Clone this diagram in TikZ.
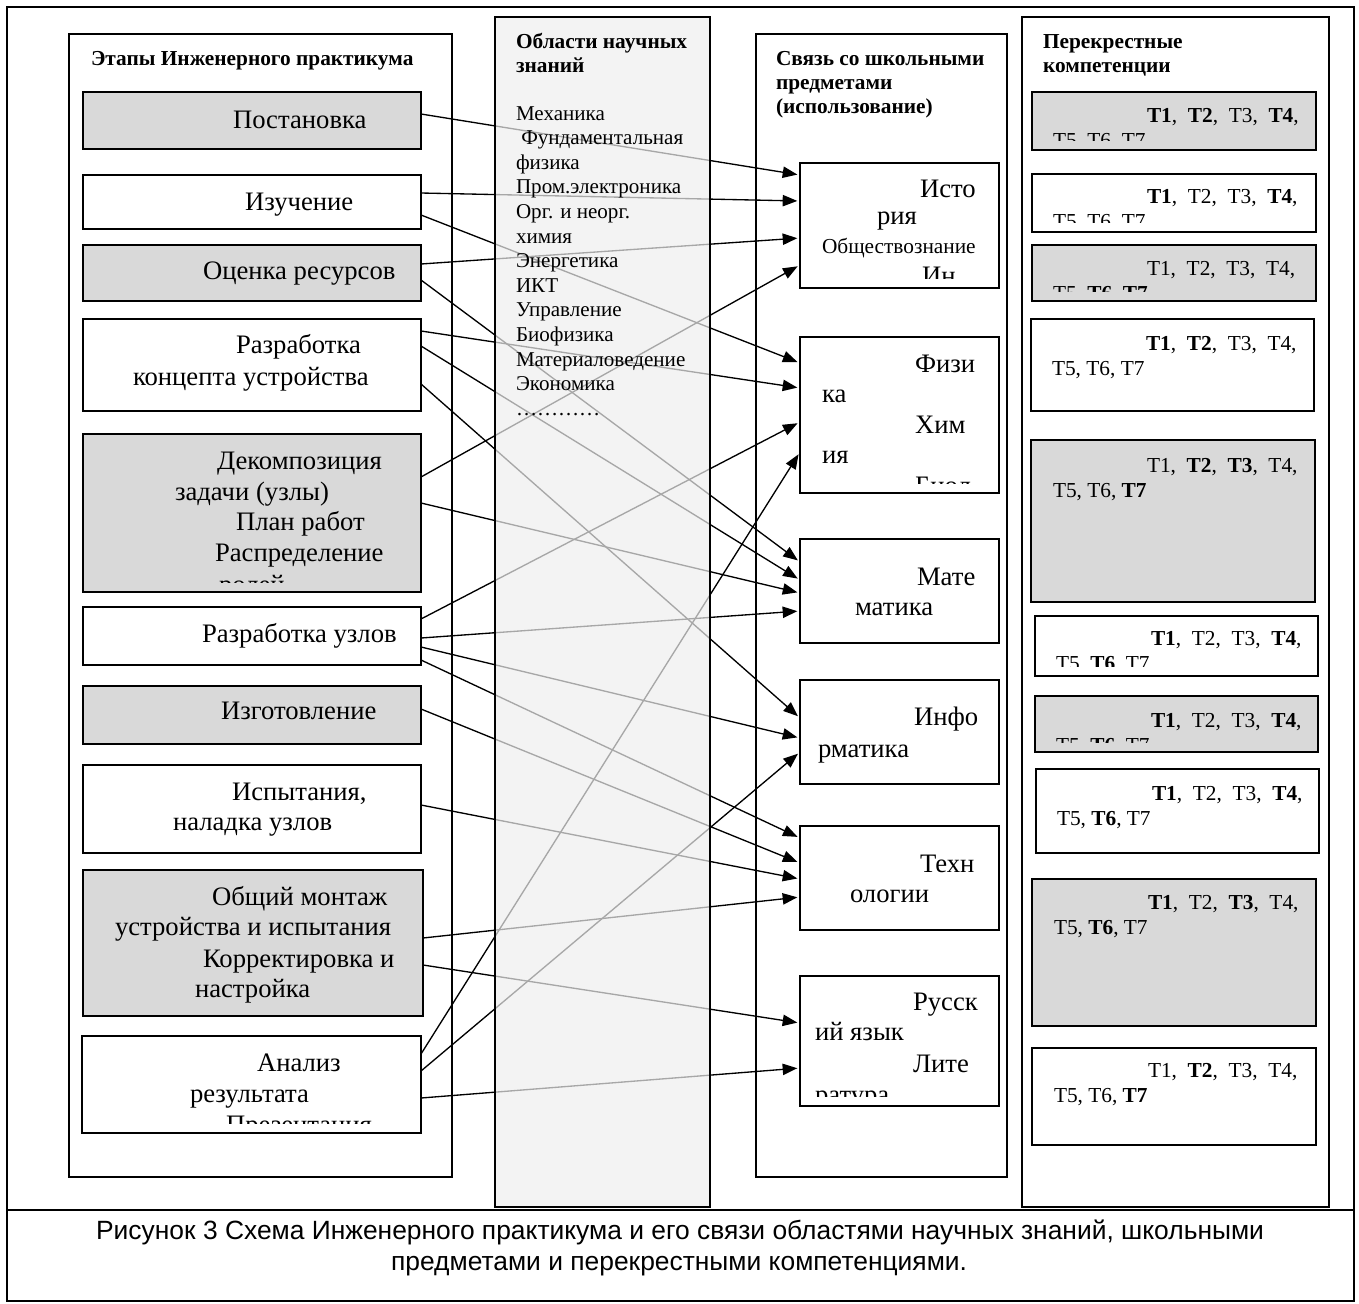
\documentclass[tikz,border=0pt]{standalone}
\usepackage{fontspec}
\setmainfont{Liberation Serif}
\newfontfamily\capfont{Liberation Sans}
\usepackage{xcolor}
\usepackage{tikz}
\usetikzlibrary{arrows.meta,fit}
\definecolor{boxgray}{HTML}{D9D9D9}
\definecolor{areagray}{HTML}{EEEEEE}
\newcommand\stagefont{\fontsize{20}{24}\selectfont}
\newcommand\subjfont{\fontsize{20}{24}\selectfont}
\newcommand\listfont{\fontsize{15.8}{18}\selectfont}
\newcommand\compfont{\fontsize{16}{19}\selectfont}
\newcommand\headfont{\fontsize{16}{19}\selectfont\bfseries}
\newcommand\captfont{\capfont\fontsize{19.8}{23}\selectfont}
\newcommand\boxlines[3]{%
  \begin{scope}
    \clip (#1.north west) rectangle ([yshift=7.5pt]#1.south east);
    \foreach \lx/\ly/\lt [count=\li] in {#3}
      \node[lbl, font=#2] (#1-\li) at (\lx,\ly) {\lt};
  \end{scope}}
\tikzset{
  frame/.style={draw, line width=1.5pt, inner sep=0pt, outer sep=0pt},
  column/.style={draw, line width=1.3pt, fill=white, inner sep=0pt, outer sep=0pt},
  stage/.style={draw, line width=1.4pt, inner sep=0pt, outer sep=0pt},
  shaded/.style={stage, fill=boxgray},
  plain/.style={stage, fill=white},
  lbl/.style={anchor=base west, inner sep=0pt, outer sep=0pt},
  capt/.style={anchor=base, inner sep=0pt, font=\captfont},
  link/.style={line width=1pt, -{Triangle[length=11pt,width=8.5pt]}, shorten >=2pt}
}

\begin{document}
\begin{tikzpicture}[x=0.75pt, y=-0.75pt]
  \useasboundingbox (0,0) rectangle (1359,1303);
  \fill[white] (0,0) rectangle (1359,1303);
  \node[frame, fit={(7,7) (1354,1301)}] (sheet) {};
  \draw[frame] (sheet.west |- 0,1210) -- (sheet.east |- 0,1210);

  \node[column, fit={(69,34) (452,1177)}] (stages) {};
  \node[column, fit={(756,34) (1007,1177)}] (subjects) {};
  \node[column, fit={(1022,17) (1329,1207)}] (skills) {};

  \node[lbl, font=\headfont] (stages-head) at (91,65) {Этапы Инженерного практикума};
  \node[lbl, font=\headfont] (subjects-head1) at (776,65) {Связь со школьными};
  \node[lbl, font=\headfont] (subjects-head2) at (776,89) {предметами};
  \node[lbl, font=\headfont] (subjects-head3) at (776,113) {(использование)};
  \node[lbl, font=\headfont] (skills-head1) at (1043,48) {Перекрестные};
  \node[lbl, font=\headfont] (skills-head2) at (1043,72) {компетенции};

  \node[shaded, fit={(83,92) (421,149)}] (post) {};
  \node[plain, fit={(83,175) (421,229)}] (izuch) {};
  \node[shaded, fit={(83,245) (421,301)}] (ocenka) {};
  \node[plain, fit={(83,319) (421,411)}] (koncept) {};
  \node[shaded, fit={(83,434) (421,592)}] (dekomp) {};
  \node[plain, fit={(83,607) (421,665)}] (uzly) {};
  \node[shaded, fit={(83,686) (421,744)}] (izgot) {};
  \node[plain, fit={(83,765) (421,853)}] (ispyt) {};
  \node[shaded, fit={(83,870) (423,1016)}] (montazh) {};
  \node[plain, fit={(82,1036) (421,1133)}] (analiz) {};

  \boxlines{post}{\stagefont}{233/128/Постановка}
  \boxlines{izuch}{\stagefont}{245/210/Изучение}
  \boxlines{ocenka}{\stagefont}{203/279/Оценка ресурсов}
  \boxlines{koncept}{\stagefont}{236/353/Разработка, 133/385/концепта устройства}
  \boxlines{dekomp}{\stagefont}{217/469/Декомпозиция, 175/500/задачи (узлы), 236/530/План работ, 215/561/Распределение, 219/593/ролей}
  \boxlines{uzly}{\stagefont}{202/642/Разработка узлов}
  \boxlines{izgot}{\stagefont}{221/719/Изготовление}
  \boxlines{ispyt}{\stagefont}{232/800/{Испытания,}, 173/830/наладка узлов}
  \boxlines{montazh}{\stagefont}{212/905/Общий монтаж, 115/935/устройства и испытания, 203/967/Корректировка и, 195/997/настройка}
  \boxlines{analiz}{\stagefont}{257/1071/Анализ, 190/1102/результата, 226/1133/Презентация}

  \node[plain, fit={(800,163) (999,288)}] (hist) {};
  \node[plain, fit={(800,337) (999,493)}] (phys) {};
  \node[plain, fit={(800,539) (999,643)}] (math) {};
  \node[plain, fit={(800,680) (999,784)}] (inf) {};
  \node[plain, fit={(800,826) (999,930)}] (tech) {};
  \node[plain, fit={(800,976) (999,1106)}] (rus) {};

  \boxlines{hist}{\subjfont}{920/197/Исто, 877/224/рия, 822/253/{\fontsize{16}{19}\selectfont Обществознание}, 922/284/Ин}
  \boxlines{phys}{\subjfont}{915/372/Физи, 822/402/ка, 915/433/Хим, 822/463/ия, 915/494/Биол}
  \boxlines{math}{\subjfont}{917/585/Мате, 855/615/матика}
  \boxlines{inf}{\subjfont}{914/725/Инфо, 818/757/рматика}
  \boxlines{tech}{\subjfont}{920/872/Техн, 850/902/ологии}
  \boxlines{rus}{\subjfont}{913/1010/Русск, 815/1040/ий язык, 913/1072/Лите, 815/1103/ратура}

  \node[shaded, fit={(1032,92) (1316,150)}] (k1) {};
  \node[plain, fit={(1032,174) (1316,232)}] (k2) {};
  \node[shaded, fit={(1032,245) (1316,301)}] (k3) {};
  \node[plain, fit={(1031,319) (1314,411)}] (k4) {};
  \node[shaded, fit={(1031,440) (1315,602)}] (k5) {};
  \node[plain, fit={(1035,616) (1318,676)}] (k6) {};
  \node[shaded, fit={(1035,696) (1318,752)}] (k7) {};
  \node[plain, fit={(1036,769) (1319,853)}] (k8) {};
  \node[shaded, fit={(1032,879) (1316,1026)}] (k9) {};
  \node[plain, fit={(1032,1048) (1316,1145)}] (k10) {};

  \boxlines{k1}{\compfont}{1147/122/{\textbf{T1},\ \ \textbf{T2},\ \ T3,\ \ \textbf{T4},}, 1053/147/{T5, T6, T7}}
  \boxlines{k2}{\compfont}{1147/203/{\textbf{T1},\ \ T2,\ \ T3,\ \ \textbf{T4},}, 1053/228/{T5, T6, T7}}
  \boxlines{k3}{\compfont}{1147/275/{T1,\ \ T2,\ \ T3,\ \ T4,}, 1053/300/{T5, \textbf{T6}, \textbf{T7}}}
  \boxlines{k4}{\compfont}{1146/350/{\textbf{T1},\ \ \textbf{T2},\ \ T3,\ \ T4,}, 1052/375/{T5, T6, T7}}
  \boxlines{k5}{\compfont}{1147/472/{T1,\ \ \textbf{T2},\ \ \textbf{T3},\ \ T4,}, 1053/497/{T5, T6, \textbf{T7}}}
  \boxlines{k6}{\compfont}{1151/645/{\textbf{T1},\ \ T2,\ \ T3,\ \ \textbf{T4},}, 1056/670/{T5, \textbf{T6}, T7}}
  \boxlines{k7}{\compfont}{1151/727/{\textbf{T1},\ \ T2,\ \ T3,\ \ \textbf{T4},}, 1056/752/{T5, \textbf{T6}, T7}}
  \boxlines{k8}{\compfont}{1152/800/{\textbf{T1},\ \ T2,\ \ T3,\ \ \textbf{T4},}, 1057/825/{T5, \textbf{T6}, T7}}
  \boxlines{k9}{\compfont}{1148/909/{\textbf{T1},\ \ T2,\ \ \textbf{T3},\ \ T4,}, 1054/934/{T5, \textbf{T6}, T7}}
  \boxlines{k10}{\compfont}{1148/1077/{T1,\ \ \textbf{T2},\ \ T3,\ \ T4,}, 1054/1102/{T5, T6, \textbf{T7}}}

  \foreach \a/\ay/\b/\by in {post/114/hist/175, izuch/193/hist/201, izuch/215/phys/363,
      ocenka/264/hist/238, ocenka/280/math/562, koncept/331/phys/388, koncept/346/math/580,
      koncept/384/inf/718, dekomp/477/hist/265, dekomp/503/math/593, uzly/619/phys/422,
      uzly/638/math/611, uzly/647/inf/738, uzly/660/tech/838, izgot/709/tech/863,
      ispyt/805/tech/879, montazh/938/tech/897, montazh/965/rus/1023, analiz/1054/phys/452,
      analiz/1071/inf/752, analiz/1098/rus/1068}
    \draw[link] (\a.east |- 0,\ay) -- (\b.west |- 0,\by);

  \node[column, fill=areagray, fill opacity=0.7, fit={(495,17) (710,1207)}] (areas) {};
  \node[lbl, font=\headfont] (areas-head1) at (516,48) {Области научных};
  \node[lbl, font=\headfont] (areas-head2) at (516,72) {знаний};
  \foreach \t [count=\i] in {Механика, \ Фундаментальная, физика, Пром.электроника, Орг. и неорг., химия,
      Энергетика, ИКТ, Управление, Биофизика, Материаловедение, Экономика, …………}
    \node[lbl, font=\listfont] (area-\i) at (516,{120+24.6*(\i-1)}) {\t};

  \node[capt] (cap-1) at (680,1239) {Рисунок 3 Схема Инженерного практикума и его связи областями научных знаний, школьными};
  \node[capt] (cap-2) at (679,1270) {предметами и перекрестными компетенциями.};
\end{tikzpicture}
\end{document}
